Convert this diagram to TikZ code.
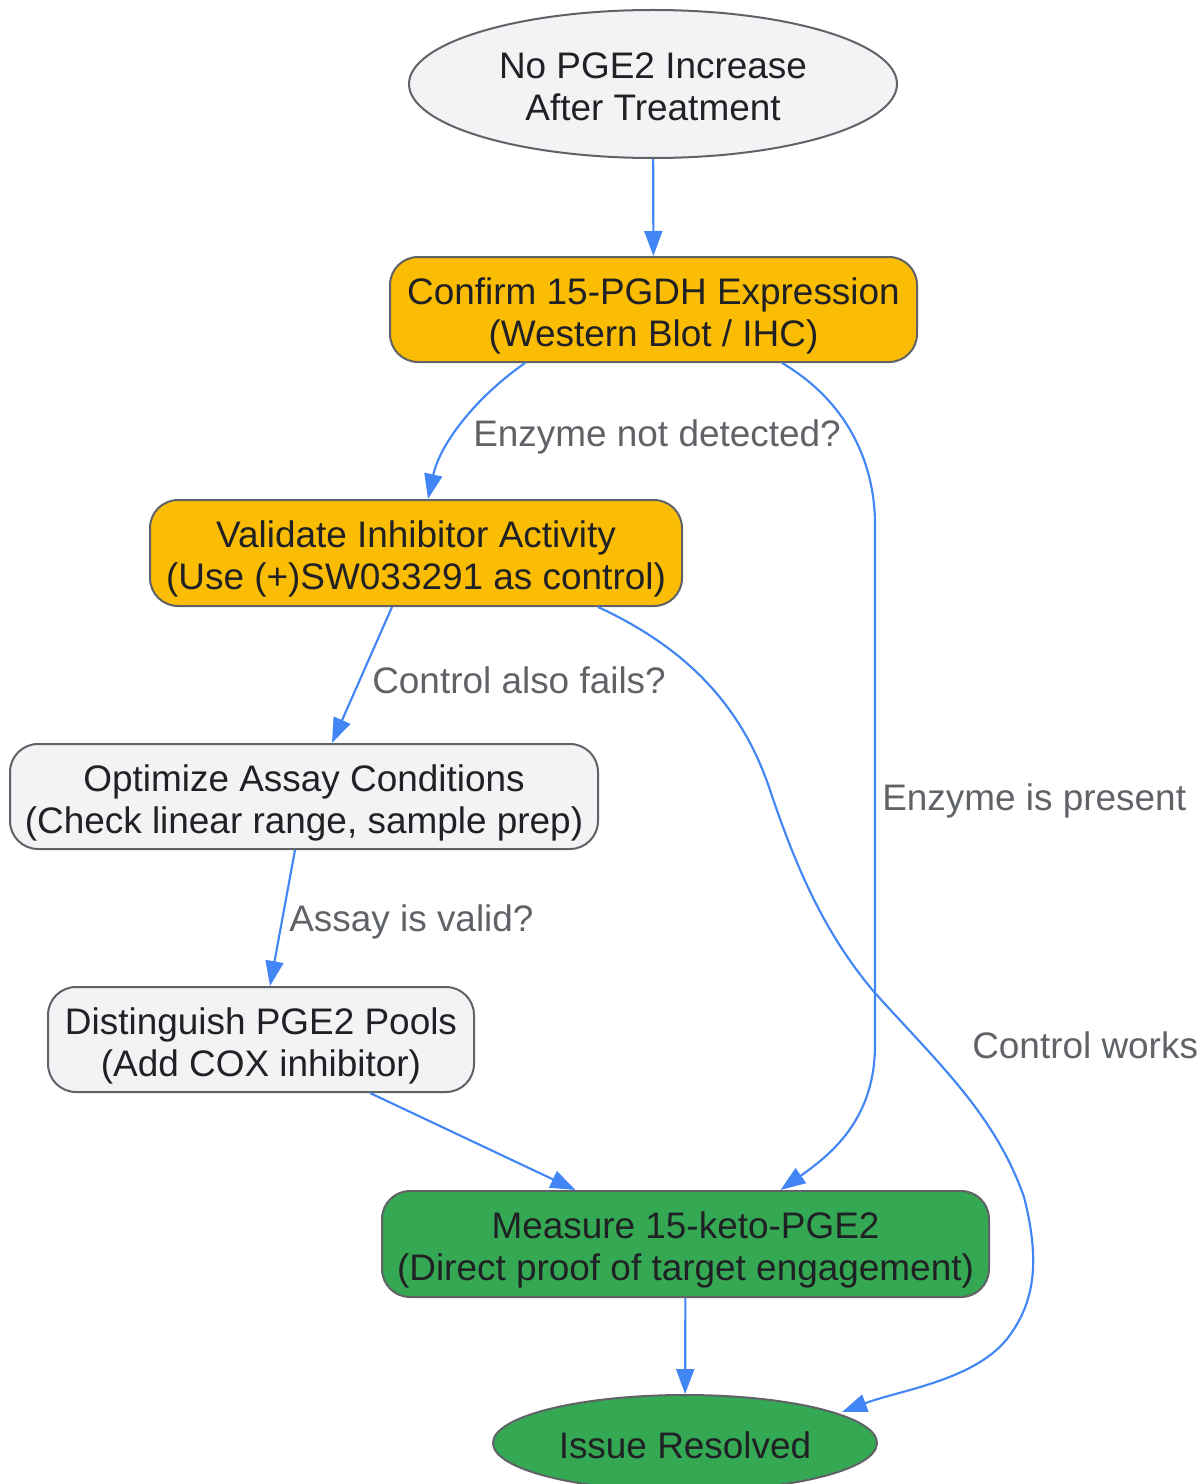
\documentclass[tikz,border=0pt]{standalone}
\usepackage{fontspec}
\setmainfont{Liberation Sans}
\usetikzlibrary{shapes.geometric,arrows.meta,calc}
\definecolor{flowblue}{HTML}{4285F4}
\definecolor{edgegray}{HTML}{5F6368}
\definecolor{boxgray}{HTML}{F1F3F4}
\definecolor{boxyellow}{HTML}{FBBC04}
\definecolor{boxgreen}{HTML}{34A853}
\definecolor{inkdark}{HTML}{202124}

\begin{document}
\begin{tikzpicture}[x=0.75pt,y=-0.75pt]
\tikzstyle{every node}+=[inner sep=0pt, font=\fontsize{27.7}{31.5}\selectfont]
\tikzstyle{box}=[draw=edgegray, line width=1.5pt, rounded corners=21pt, align=center, text=inkdark,
  text height=62.2pt, text depth=7pt]
\tikzstyle{oval}=[box, ellipse, sharp corners]
\tikzstyle{flow}=[draw=flowblue, line width=1.6pt, -{Triangle[length=18.75pt,width=13.5pt]}]
\tikzstyle{note}=[text=edgegray, anchor=west]
\useasboundingbox (0,0) rectangle (1202,1484);
\node [oval, fill=boxgray, minimum width=366pt, minimum height=111pt] (start) at (653,84) {No PGE2 Increase\\After Treatment};
\node [box, fill=boxyellow, minimum width=395.25pt, minimum height=78.75pt] (confirm) at (653.5,309.5) {Confirm 15-PGDH Expression\\(Western Blot / IHC)};
\node [box, fill=boxyellow, minimum width=399pt, minimum height=79.5pt] (validate) at (416,553) {Validate Inhibitor Activity\\(Use (+)SW033291 as control)};
\node [box, fill=boxgray, minimum width=441pt, minimum height=78.75pt] (optimize) at (304,796.5) {Optimize Assay Conditions\\(Check linear range, sample prep)};
\node [box, fill=boxgray, minimum width=319.5pt, minimum height=78.75pt] (pools) at (261,1039.5) {Distinguish PGE2 Pools\\(Add COX inhibitor)};
\node [box, fill=boxgreen, minimum width=455.25pt, minimum height=79.5pt] (measure) at (685.5,1244) {Measure 15-keto-PGE2\\(Direct proof of target engagement)};
\node [oval, fill=boxgreen, minimum width=288pt, minimum height=72pt, text height=29.6pt] (resolved) at (685,1443) {Issue Resolved};
\draw [flow] (start) -- (confirm);
\draw [flow] ($(confirm.south)+(-128.5,0)$) .. controls +(-50,35) and +(12,-55) .. ($(validate.north)+(12,0)$);
\node [note] (notdetected) at (473,437) {Enzyme not detected?};
\draw [flow] ($(confirm.south)+(128.5,0)$) .. controls (845,400) and (875,460) .. (875,525) -- (875,1045) .. controls (875,1120) and (830,1155) .. ($(measure.north)+(95,0)$);
\node [note] (present) at (882,801) {Enzyme is present};
\draw [flow] ($(validate.south)+(-24,0)$) -- ($(optimize.north)+(28,0)$);
\node [note] (fails) at (372,680) {Control also fails?};
\draw [flow] ($(validate.south)+(182,0)$) .. controls (680,645) and (740,700) .. (770,790) .. controls (800,880) and (830,940) .. (875,993) .. controls (940,1065) and (995,1115) .. (1024,1197) .. controls (1040,1260) and (1035,1300) .. (1010,1335) .. controls (978,1380) and (900,1390) .. ($(resolved.center)+(157,-31)$);
\node [note] (works) at (972,1045) {Control works};
\draw [flow] ($(optimize.south)+(-9,0)$) -- ($(pools.north)+(9,0)$);
\node [note] (valid) at (289,922) {Assay is valid?};
\draw [flow] ($(pools.south)+(109,0)$) -- ($(measure.north)+(-110,0)$);
\draw [flow] (measure) -- (resolved);
\end{tikzpicture}
\end{document}
